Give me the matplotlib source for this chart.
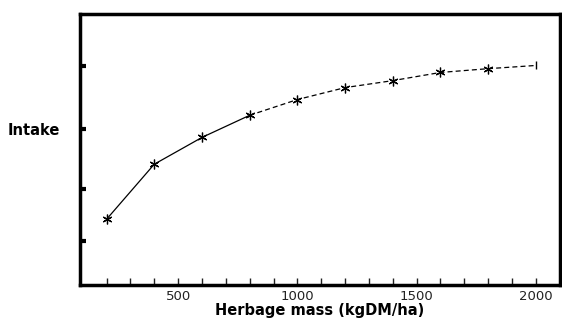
import matplotlib
matplotlib.use('Agg')
import matplotlib.pyplot as plt

herbage_mass = [200, 400, 600, 800, 1000, 1200, 1400, 1600, 1800, 2000]
intake = [2.75, 4.64, 5.56, 6.32, 6.86, 7.27, 7.51, 7.79, 7.92, 8.03]
x_labels = [500, 1000, 1500, 2000]
minor_x = list(range(200, 2001, 100))
y_ticks = [2, 3.8, 5.85, 8]

fig = plt.figure(figsize=(5.62, 3.23), dpi=100)
ax = fig.add_axes([0.142, 0.118, 0.854, 0.839])

# solid part then dashed part, like the original scan
ax.plot(herbage_mass[:4], intake[:4], color='black', lw=0.9)
ax.plot(herbage_mass[3:], intake[3:], color='black', lw=0.9, ls=(0, (4, 2.5)))
ax.plot(herbage_mass[:-1], intake[:-1], ls='none', marker=(6, 2, 0),
        ms=7, mec='black', mew=0.9)
ax.plot(herbage_mass[-1:], intake[-1:], ls='none', marker='|',
        ms=6, mec='black', mew=1.0)

ax.set_xlim(88, 2100)
ax.set_ylim(0.5, 9.8)
ax.set_xticks(x_labels)
ax.set_xticks(minor_x, minor=True)
ax.set_yticks(y_ticks)
ax.set_yticklabels([])
ax.tick_params(axis='x', which='both', direction='in', length=5, width=1,
               labelsize=9.5, colors='#222222', pad=4)
ax.tick_params(axis='y', direction='in', length=4, width=3)

for s in ax.spines.values():
    s.set_linewidth(2.5)

ax.set_xlabel('Herbage mass (kgDM/ha)', fontsize=10.5, fontweight='bold', labelpad=0)
ax.set_ylabel('Intake', fontsize=10.5, fontweight='bold', rotation=0, va='center')
ax.yaxis.set_label_coords(-0.095, 0.57)

fig.savefig('out.png', dpi=100)
